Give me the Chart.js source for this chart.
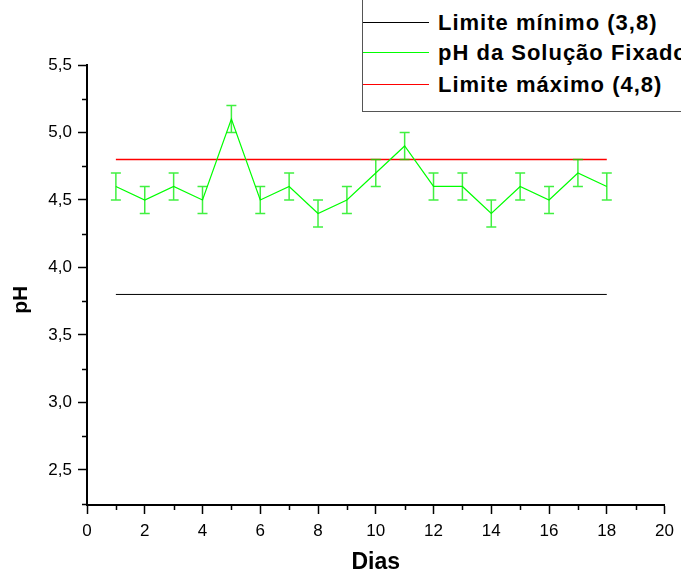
<!DOCTYPE html>
<html>
<head>
<meta charset="utf-8">
<script src="https://cdn.jsdelivr.net/npm/chart.js@4/dist/chart.umd.min.js"></script>
<style>
  body { margin: 0; overflow: hidden; background: #fff; }
  #wrap { position: relative; width: 681px; height: 579px; overflow: hidden; }
  #legenda {
    position: absolute; left: 362px; top: -1px; width: 360px; height: 113px;
    border: 1px solid #555; background: #fff; box-sizing: border-box;
    font-family: Arial, "Liberation Sans", sans-serif; font-weight: bold; font-size: 22px;
    letter-spacing: 1px;
  }
  .item { position: absolute; left: 0; height: 24px; white-space: nowrap; }
  .item span.linha { position: absolute; left: 0; top: 11px; width: 66px; height: 1px; }
  .item span.txt { position: absolute; left: 75px; top: 0; line-height: 24px; }
</style>
</head>
<body>
<div id="wrap">
  <canvas id="grafico1" width="681" height="579"></canvas>
  <div id="legenda"></div>
</div>
<script>
  // dados
  const dias = [1, 2, 3, 4, 5, 6, 7, 8, 9, 10, 11, 12, 13, 14, 15, 16, 17, 18]
  const phSolucao = [4.6, 4.5, 4.6, 4.5, 5.1, 4.5, 4.6, 4.4, 4.5, 4.7, 4.9, 4.6, 4.6, 4.4, 4.6, 4.5, 4.7, 4.6]
  const erroPh = [0.1, 0.1, 0.1, 0.1, 0.1, 0.1, 0.1, 0.1, 0.1, 0.1, 0.1, 0.1, 0.1, 0.1, 0.1, 0.1, 0.1, 0.1]
  const limiteMin = 3.8
  const limiteMax = 4.8
  const nomes = ['Limite mínimo (3,8)', 'pH da Solução Fixado', 'Limite máximo (4,8)']
  const cores = ['rgb(0,0,0)', 'rgb(0,255,0)', 'rgb(255,0,0)']
  const ticksY = [2.25, 2.5, 2.75, 3.0, 3.25, 3.5, 3.75, 4.0, 4.25, 4.5, 4.75, 5.0, 5.25, 5.5]
  const ticksX = [0, 1, 2, 3, 4, 5, 6, 7, 8, 9, 10, 11, 12, 13, 14, 15, 16, 17, 18, 19, 20]
  const tituloY = 'pH'

  const fonte = 'Arial, "Liberation Sans", sans-serif'

  const ehMaiorY = (v) => Math.abs(v * 2 - Math.round(v * 2)) < 1e-6
  const ehMaiorX = (v) => v % 2 === 0

  // barras de erro, tracinhos menores e titulo do eixo y
  const extras = {
    id: 'extras',
    afterDatasetsDraw(chart) {
      const c = chart.ctx
      const sx = chart.scales.x, sy = chart.scales.y
      c.save()
      c.strokeStyle = 'rgba(0,235,0,0.75)'
      c.lineWidth = 1.5
      dias.forEach((d, i) => {
        const x = sx.getPixelForValue(d)
        const y1 = sy.getPixelForValue(phSolucao[i] - erroPh[i])
        const y2 = sy.getPixelForValue(phSolucao[i] + erroPh[i])
        c.beginPath()
        c.moveTo(x, y1); c.lineTo(x, y2)
        c.moveTo(x - 5, y1); c.lineTo(x + 5, y1)
        c.moveTo(x - 5, y2); c.lineTo(x + 5, y2)
        c.stroke()
      })
      // tracinhos menores
      c.strokeStyle = '#000'
      c.lineWidth = 1.5
      c.beginPath()
      ticksY.filter(v => !ehMaiorY(v)).forEach(v => {
        const y = Math.round(sy.getPixelForValue(v)) + 0.5
        c.moveTo(sx.left - 5, y); c.lineTo(sx.left, y)
      })
      ticksX.filter(v => !ehMaiorX(v)).forEach(v => {
        const x = Math.round(sx.getPixelForValue(v)) + 0.5
        c.moveTo(x, sy.bottom); c.lineTo(x, sy.bottom + 5)
      })
      c.stroke()
      // titulo do eixo y (um pouco abaixo do centro, como no original)
      c.translate(21, sy.getPixelForValue(3.76))
      c.rotate(-Math.PI / 2)
      c.fillStyle = '#000'
      c.font = 'bold 21px ' + fonte
      c.textAlign = 'center'
      c.textBaseline = 'middle'
      c.fillText(tituloY, 0, 0)
      c.restore()
    }
  }

  const grafico1 = document.getElementById('grafico1')
  new Chart(grafico1, {
    type: 'line',
    data: {
      datasets: [
        {
          label: nomes[0],
          data: [{x: dias[0], y: limiteMin}, {x: dias[dias.length - 1], y: limiteMin}],
          borderColor: cores[0], backgroundColor: cores[0], borderWidth: 1, pointRadius: 0
        },
        {
          label: nomes[1],
          data: dias.map((d, i) => ({x: d, y: phSolucao[i]})),
          borderColor: cores[1], backgroundColor: cores[1], borderWidth: 1.2, pointRadius: 0, tension: 0
        },
        {
          label: nomes[2],
          data: [{x: dias[0], y: limiteMax}, {x: dias[dias.length - 1], y: limiteMax}],
          borderColor: cores[2], backgroundColor: cores[2], borderWidth: 1.5, pointRadius: 0
        }
      ]
    },
    options: {
      responsive: false,
      animation: false,
      layout: { padding: { left: 0, right: 13, top: 65, bottom: 0 } },
      plugins: { legend: { display: false }, tooltip: { enabled: false } },
      scales: {
        x: {
          type: 'linear', min: 0, max: 20,
          afterBuildTicks: (ax) => { ax.ticks = ticksX.map(v => ({value: v})) },
          afterFit: (ax) => { ax.height = 74 },
          grid: {
            drawOnChartArea: false, drawTicks: true, tickLength: 9, tickWidth: 1.5,
            tickColor: (ctx) => (ehMaiorX(ctx.tick.value) ? '#000' : 'rgba(0,0,0,0)')
          },
          border: { display: true, color: '#000', width: 2 },
          ticks: {
            autoSkip: false, maxRotation: 0, padding: 7, color: '#000',
            font: { family: fonte, size: 17 },
            callback: (v) => (ehMaiorX(v) ? String(v) : '')
          },
          title: { display: true, text: 'Dias', color: '#000', font: { family: fonte, size: 23, weight: 'bold' }, padding: { top: 0, bottom: 3 } }
        },
        y: {
          type: 'linear', min: 2.24, max: 5.5,
          afterBuildTicks: (ax) => { ax.ticks = ticksY.map(v => ({value: v})) },
          afterFit: (ax) => { ax.width = 87 },
          grid: {
            drawOnChartArea: false, drawTicks: true, tickLength: 9, tickWidth: 1.5,
            tickColor: (ctx) => (ehMaiorY(ctx.tick.value) ? '#000' : 'rgba(0,0,0,0)')
          },
          border: { display: true, color: '#000', width: 2 },
          ticks: {
            autoSkip: false, padding: 6, color: '#000',
            font: { family: fonte, size: 17 },
            callback: (v) => (ehMaiorY(v) ? v.toFixed(1).replace('.', ',') : '')
          },
          title: { display: false }
        }
      }
    },
    plugins: [extras]
  })

  // legenda em caixa no canto
  const legenda = document.getElementById('legenda')
  const topos = [11, 41, 73]
  nomes.forEach((n, i) => {
    const it = document.createElement('div')
    it.className = 'item'
    it.style.top = topos[i] + 'px'
    it.innerHTML = '<span class="linha" style="background:' + cores[i] + '"></span><span class="txt">' + n + '</span>'
    legenda.appendChild(it)
  })
</script>
</body>
</html>
